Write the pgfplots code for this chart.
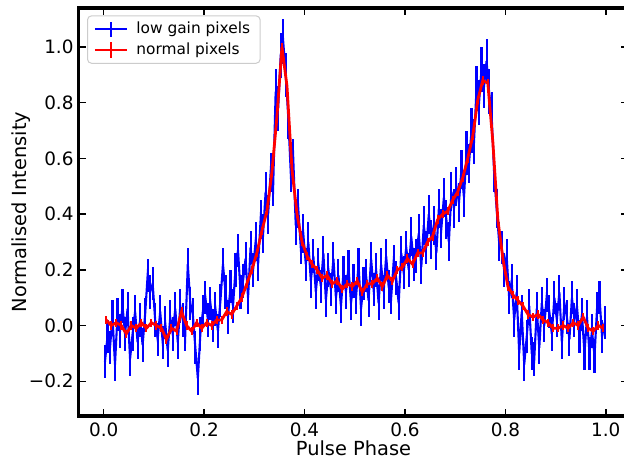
\documentclass[border=0pt]{standalone}
\usepackage{fontspec}
\setmainfont{DejaVu Sans}
\usepackage{pgfplots}
\pgfplotsset{compat=1.18}
\usepackage{pgfplotstable}

\pgfplotstableread{
x y e
0.0025 -0.13 0.06
0.0075 -0.04 0.06
0.0125 -0.08 0.06
0.0175 0.03 0.06
0.0225 -0.14 0.06
0.0275 0.04 0.06
0.0325 -0.02 0.06
0.0375 0.07 0.06
0.0425 -0.03 0.06
0.0475 0.06 0.06
0.0525 -0.12 0.06
0.0575 -0.03 0.06
0.0625 0.05 0.06
0.0675 -0.06 0.06
0.0725 0.02 0.06
0.0775 -0.07 0.06
0.0825 0.04 0.06
0.0875 0.18 0.06
0.0925 0.12 0.06
0.0975 0.15 0.06
0.1025 0.02 0.06
0.1075 -0.05 0.06
0.1125 0.05 0.06
0.1175 -0.06 0.06
0.1225 0.01 0.06
0.1275 -0.09 0.06
0.1325 0.03 0.06
0.1375 -0.03 0.06
0.1425 0.06 0.06
0.1475 -0.06 0.06
0.1525 0.07 0.06
0.1575 0.02 0.06
0.1625 -0.03 0.06
0.1675 0.22 0.06
0.1725 0.08 0.06
0.1775 0.04 0.06
0.1825 -0.08 0.06
0.1875 -0.19 0.06
0.1925 -0.03 0.06
0.1975 0.05 0.06
0.2025 0.10 0.06
0.2075 0.02 0.06
0.2125 0.08 0.06
0.2175 0.00 0.06
0.2225 0.06 0.06
0.2275 -0.02 0.06
0.2325 0.09 0.06
0.2375 0.22 0.06
0.2425 0.12 0.06
0.2475 0.03 0.06
0.2525 0.14 0.06
0.2575 0.07 0.06
0.2625 0.20 0.06
0.2675 0.27 0.06
0.2725 0.12 0.06
0.2775 0.16 0.06
0.2825 0.24 0.06
0.2875 0.10 0.06
0.2925 0.28 0.06
0.2975 0.20 0.06
0.3025 0.30 0.07
0.3075 0.22 0.06
0.3125 0.38 0.07
0.3175 0.33 0.07
0.3225 0.48 0.07
0.3275 0.40 0.07
0.3325 0.55 0.07
0.3375 0.50 0.07
0.3425 0.84 0.08
0.3475 0.78 0.08
0.3525 0.97 0.08
0.3575 1.02 0.08
0.3625 0.90 0.08
0.3675 0.75 0.08
0.3725 0.55 0.07
0.3775 0.60 0.07
0.3825 0.36 0.07
0.3875 0.42 0.07
0.3925 0.28 0.06
0.3975 0.33 0.07
0.4025 0.22 0.06
0.4075 0.30 0.07
0.4125 0.16 0.06
0.4175 0.25 0.06
0.4225 0.12 0.06
0.4275 0.22 0.06
0.4325 0.14 0.06
0.4375 0.26 0.06
0.4425 0.09 0.06
0.4475 0.20 0.06
0.4525 0.13 0.06
0.4575 0.24 0.06
0.4625 0.10 0.06
0.4675 0.18 0.06
0.4725 0.07 0.06
0.4775 0.19 0.06
0.4825 0.12 0.06
0.4875 0.21 0.06
0.4925 0.08 0.06
0.4975 0.16 0.06
0.5025 0.10 0.06
0.5075 0.22 0.06
0.5125 0.06 0.06
0.5175 0.15 0.06
0.5225 0.18 0.06
0.5275 0.09 0.06
0.5325 0.24 0.06
0.5375 0.13 0.06
0.5425 0.20 0.06
0.5475 0.08 0.06
0.5525 0.22 0.06
0.5575 0.12 0.06
0.5625 0.25 0.06
0.5675 0.14 0.06
0.5725 0.10 0.06
0.5775 0.23 0.06
0.5825 0.17 0.06
0.5875 0.08 0.06
0.5925 0.26 0.06
0.5975 0.19 0.06
0.6025 0.28 0.06
0.6075 0.20 0.06
0.6125 0.32 0.07
0.6175 0.22 0.06
0.6225 0.25 0.06
0.6275 0.33 0.07
0.6325 0.21 0.06
0.6375 0.36 0.07
0.6425 0.28 0.06
0.6475 0.40 0.07
0.6525 0.31 0.07
0.6575 0.36 0.07
0.6625 0.26 0.06
0.6675 0.42 0.07
0.6725 0.35 0.07
0.6775 0.46 0.07
0.6825 0.38 0.07
0.6875 0.30 0.07
0.6925 0.48 0.07
0.6975 0.42 0.07
0.7025 0.50 0.07
0.7075 0.44 0.07
0.7125 0.56 0.07
0.7175 0.46 0.07
0.7225 0.62 0.08
0.7275 0.58 0.07
0.7325 0.70 0.08
0.7375 0.66 0.08
0.7425 0.85 0.08
0.7475 0.80 0.08
0.7525 0.92 0.08
0.7575 0.86 0.08
0.7625 0.95 0.08
0.7675 0.84 0.08
0.7725 0.76 0.08
0.7775 0.55 0.07
0.7825 0.42 0.07
0.7875 0.30 0.07
0.7925 0.28 0.06
0.7975 0.20 0.06
0.8025 0.25 0.06
0.8075 0.10 0.06
0.8125 0.16 0.06
0.8175 0.02 0.06
0.8225 0.12 0.06
0.8275 -0.10 0.06
0.8325 0.05 0.06
0.8375 -0.14 0.06
0.8425 -0.04 0.06
0.8475 0.07 0.06
0.8525 -0.10 0.06
0.8575 -0.12 0.06
0.8625 0.06 0.06
0.8675 -0.08 0.06
0.8725 0.08 0.06
0.8775 0.00 0.06
0.8825 0.11 0.06
0.8875 0.05 0.06
0.8925 -0.03 0.06
0.8975 0.10 0.06
0.9025 0.02 0.06
0.9075 0.12 0.06
0.9125 -0.06 0.06
0.9175 0.08 0.06
0.9225 0.03 0.06
0.9275 -0.05 0.06
0.9325 0.10 0.06
0.9375 0.02 0.06
0.9425 0.07 0.06
0.9475 -0.04 0.06
0.9525 0.04 0.06
0.9575 -0.10 0.06
0.9625 0.03 0.06
0.9675 -0.10 0.06
0.9725 -0.02 0.06
0.9775 -0.11 0.06
0.9825 0.06 0.06
0.9875 0.10 0.06
0.9925 -0.04 0.06
0.9975 0.01 0.06
}\lowgain

\pgfplotstableread{
x y e
0.005 0.02 0.015
0.015 0.00 0.015
0.025 0.01 0.015
0.035 0.00 0.015
0.045 -0.03 0.015
0.055 0.00 0.015
0.065 -0.01 0.015
0.075 0.01 0.015
0.085 -0.01 0.015
0.095 0.01 0.015
0.105 0.00 0.015
0.115 -0.01 0.015
0.125 -0.05 0.015
0.135 -0.01 0.015
0.145 -0.02 0.015
0.155 0.05 0.015
0.165 0.00 0.015
0.175 -0.02 0.015
0.185 0.01 0.015
0.195 -0.01 0.015
0.205 0.01 0.015
0.215 0.00 0.015
0.225 0.02 0.015
0.235 0.02 0.015
0.245 0.05 0.015
0.255 0.04 0.015
0.265 0.07 0.015
0.275 0.10 0.015
0.285 0.15 0.015
0.295 0.20 0.015
0.305 0.26 0.015
0.315 0.34 0.015
0.325 0.41 0.015
0.335 0.55 0.015
0.345 0.75 0.015
0.355 1.00 0.015
0.365 0.86 0.015
0.375 0.56 0.015
0.385 0.40 0.015
0.395 0.30 0.015
0.405 0.25 0.015
0.415 0.22 0.015
0.425 0.20 0.015
0.435 0.17 0.015
0.445 0.18 0.015
0.455 0.15 0.015
0.465 0.16 0.015
0.475 0.13 0.015
0.485 0.15 0.015
0.495 0.14 0.015
0.505 0.16 0.015
0.515 0.12 0.015
0.525 0.15 0.015
0.535 0.15 0.015
0.545 0.17 0.015
0.555 0.14 0.015
0.565 0.18 0.015
0.575 0.16 0.015
0.585 0.20 0.015
0.595 0.21 0.015
0.605 0.24 0.015
0.615 0.22 0.015
0.625 0.26 0.015
0.635 0.26 0.015
0.645 0.30 0.015
0.655 0.32 0.015
0.665 0.38 0.015
0.675 0.40 0.015
0.685 0.41 0.015
0.695 0.45 0.015
0.705 0.48 0.015
0.715 0.53 0.015
0.725 0.60 0.015
0.735 0.68 0.015
0.745 0.81 0.015
0.755 0.88 0.015
0.765 0.87 0.015
0.775 0.66 0.015
0.785 0.38 0.015
0.795 0.24 0.015
0.805 0.14 0.015
0.815 0.11 0.015
0.825 0.09 0.015
0.835 0.07 0.015
0.845 0.04 0.015
0.855 0.03 0.015
0.865 0.04 0.015
0.875 0.02 0.015
0.885 0.01 0.015
0.895 -0.01 0.015
0.905 -0.01 0.015
0.915 0.00 0.015
0.925 -0.01 0.015
0.935 0.01 0.015
0.945 0.00 0.015
0.955 0.03 0.015
0.965 -0.01 0.015
0.975 -0.02 0.015
0.985 0.00 0.015
0.995 -0.01 0.015
}\normalpix

\begin{document}
\begin{tikzpicture}
\begin{axis}[
  scale only axis,
  width=274.9pt, height=204pt,
  xmin=-0.05, xmax=1.045, ymin=-0.325, ymax=1.14,
  axis line style={line width=1.6pt, black},
  tick align=inside,
  major tick length=3.5pt,
  tick style={line width=0.7pt, black},
  xtick={0,0.2,0.4,0.6,0.8,1.0},
  xticklabels={0.0,0.2,0.4,0.6,0.8,1.0},
  ytick={-0.2,0,0.2,0.4,0.6,0.8,1.0},
  yticklabels={−0.2,0.0,0.2,0.4,0.6,0.8,1.0},
  ticklabel style={font=\fontsize{9.2pt}{10pt}\selectfont},
  yticklabel style={xshift=1pt},
  xlabel={Pulse Phase}, ylabel={Normalised Intensity},
  label style={font=\fontsize{9.7pt}{11pt}\selectfont},
  xlabel style={at={(axis description cs:0.5,-0.08)}, anchor=center},
  ylabel style={at={(axis description cs:-0.105,0.5)}, anchor=center},
  legend style={at={(axis description cs:0.0153,0.982)}, anchor=north west,
    draw=black!20, rounded corners=2pt, line width=0.5pt,
    font=\fontsize{7.7pt}{9pt}\selectfont, row sep=-1pt, column sep=2pt,
    inner ysep=1pt},
  legend cell align=left,
  legend image code/.code={\draw[#1] (0pt,0pt) -- (16pt,0pt); \draw[#1] (8pt,-3.8pt) -- (8pt,3.8pt);},
]
\addplot[blue, line width=1.05pt, error bars/.cd, y dir=both, y explicit, error mark=none, error bar style={line width=1.05pt, blue}] table[x=x, y=y, y error=e] {\lowgain};
\addlegendentry{low gain pixels}
\addplot[red, line width=1.4pt, error bars/.cd, y dir=both, y explicit, error mark=none, error bar style={line width=1pt, red}] table[x=x, y=y, y error=e] {\normalpix};
\addlegendentry{normal pixels}
\end{axis}
\pgfresetboundingbox
\useasboundingbox (-39.3pt,-23.5pt) rectangle (272.7pt,208pt);
\end{tikzpicture}
\end{document}
